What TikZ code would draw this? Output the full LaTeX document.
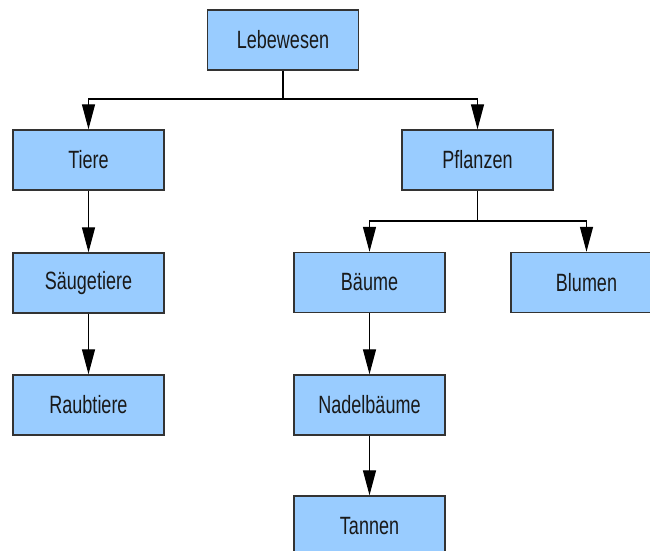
\documentclass[tikz,border=0pt]{standalone}
\usepackage{fontspec}
\setmainfont[FakeStretch=0.72]{Liberation Sans}
\usetikzlibrary{arrows.meta}
\definecolor{boxfill}{HTML}{99CCFF}
\definecolor{boxline}{HTML}{333333}
\tikzset{
  unit/.style={rectangle, draw=boxline, line width=1.4pt, fill=boxfill,
    minimum width=151pt, minimum height=60pt, inner sep=0pt,
    font=\fontsize{25}{30}\selectfont, text=black!90},
  conn/.style={draw=black, line width=1.3pt,
    -{Triangle[length=25pt,width=13pt]}},
  branch/.style={draw=black, line width=1.3pt}
}
\begin{document}
\begin{tikzpicture}[x=1pt,y=1pt]
  \useasboundingbox (0,0) rectangle (650,551);
  \clip (0,0) rectangle (650,551);
  % boxes of the classification tree
  \node[unit] (leb)    at (283,511)   {Lebewesen};
  \node[unit] (tiere)  at (88.5,391)  {Tiere};
  \node[unit] (saeug)  at (88.5,268)  {Säugetiere};
  \node[unit] (raub)   at (88.5,146)  {Raubtiere};
  \node[unit] (pfl)    at (477.5,391) {Pflanzen};
  \node[unit] (baeume) at (369.5,268.5) {Bäume};
  \node[unit] (blumen) at (586.5,268.5) {Blumen};
  \node[unit] (nadel)  at (369.5,146) {Nadelbäume};
  \node[unit] (tannen) at (369.5,25)  {Tannen};
  % branch points
  \coordinate (j1) at (283,452);
  \coordinate (j2) at (477.5,330);
  % connectors
  \draw[branch] (leb.south) -- (j1);
  \draw[conn] (j1) -| (tiere.north);
  \draw[conn] (j1) -| (pfl.north);
  \draw[branch] (pfl.south) -- (j2);
  \draw[conn] (j2) -| (baeume.north);
  \draw[conn] (j2) -| (blumen.north);
  \draw[conn] (tiere.south) -- (saeug.north);
  \draw[conn] (saeug.south) -- (raub.north);
  \draw[conn] (baeume.south) -- (nadel.north);
  \draw[conn] (nadel.south) -- (tannen.north);
\end{tikzpicture}
\end{document}
